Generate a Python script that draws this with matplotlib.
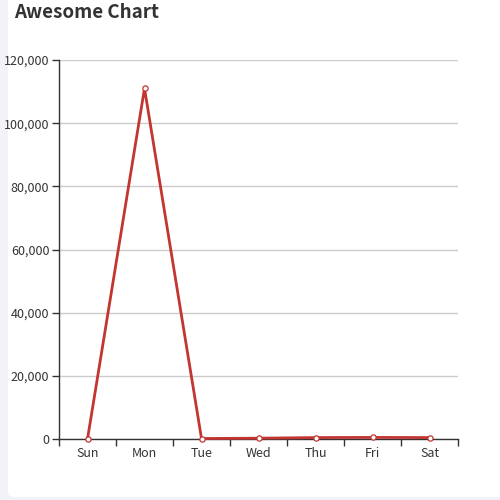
import matplotlib
matplotlib.use("Agg")
import matplotlib.pyplot as plt
from matplotlib.patches import FancyBboxPatch
from matplotlib.ticker import FuncFormatter, FixedLocator

days = ["Sun", "Mon", "Tue", "Wed", "Thu", "Fri", "Sat"]
values = [0, 111000, 150, 250, 450, 500, 450]
y_ticks = [0, 20000, 40000, 60000, 80000, 100000, 120000]

plt.rcParams['font.family'] = ['Noto Sans CJK SC', 'DejaVu Sans']

fig = plt.figure(figsize=(5, 5), dpi=100)
fig.patch.set_facecolor('#f2f3f8')
card = FancyBboxPatch((8/500, 3/500), 1.2, 1.2, boxstyle="round,pad=0,rounding_size=0.012",
                      transform=fig.transFigure, facecolor='white', edgecolor='none', zorder=-10)
fig.add_artist(card)

ax = fig.add_axes([59/500, 61/500, 399/500, 379/500])
ax.set_zorder(1)
ax.set_facecolor('none')
x = list(range(len(days)))
ax.plot(x, values, color='#c23531', linewidth=2, marker='o', markersize=3.8,
        markerfacecolor='white', markeredgecolor='#c23531', markeredgewidth=0.9, zorder=5,
        clip_on=False)

ax.set_xlim(-0.5, 6.5)
ax.set_ylim(0, 120000)
ax.set_yticks(y_ticks)
ax.yaxis.set_major_formatter(FuncFormatter(lambda v, p: f"{int(v):,}"))
ax.set_xticks(x)
ax.set_xticklabels(days)
ax.xaxis.set_minor_locator(FixedLocator([i - 0.5 for i in range(len(days) + 1)]))
ax.tick_params(axis='x', which='major', length=0, pad=6, labelsize=9, labelcolor='#333333')
ax.tick_params(axis='x', which='minor', length=5, width=1, color='#333333', direction='out')
ax.tick_params(axis='y', length=5, width=1, color='#333333', pad=2, labelsize=9, labelcolor='#333333')

ax.grid(axis='y', color='#cccccc', linewidth=1)
ax.set_axisbelow(True)
for s in ['top', 'right']:
    ax.spines[s].set_visible(False)
for s in ['left', 'bottom']:
    ax.spines[s].set_color('#333333')
    ax.spines[s].set_linewidth(1)

fig.text(14/500, 1 - 3/500, "Awesome Chart", fontsize=13.5, fontweight='bold',
         color='#333333', ha='left', va='top')

fig.savefig("out.png", dpi=100, facecolor=fig.get_facecolor())
